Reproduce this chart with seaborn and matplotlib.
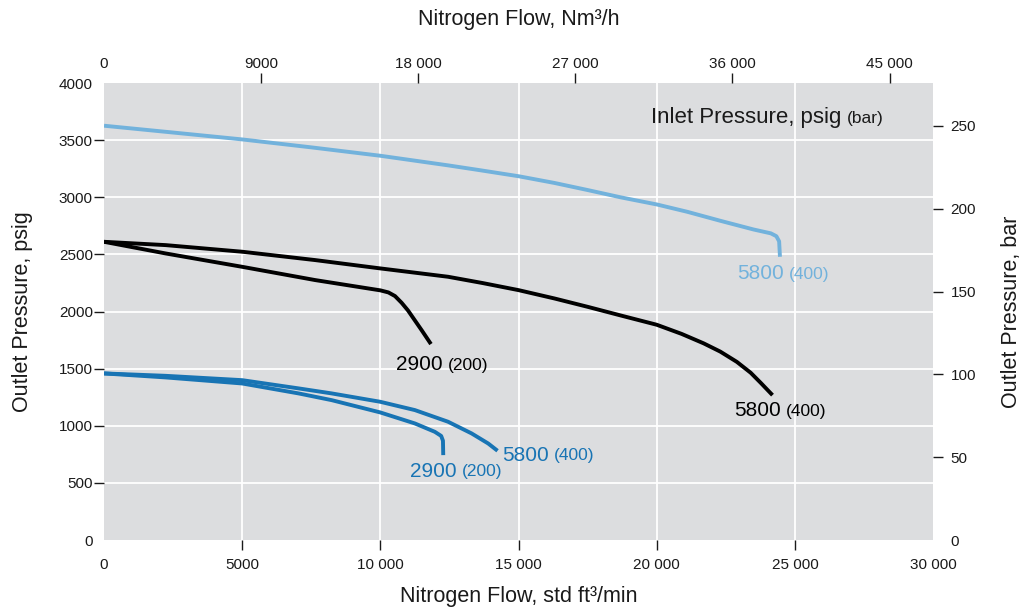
import pandas as pd
import seaborn as sns
import matplotlib.pyplot as plt
from matplotlib.ticker import FuncFormatter

# curve data (flow in std ft3/min, outlet pressure in psig)
lb58_flow = [0, 2470, 5000, 7520, 10000, 12450, 13540, 15000, 16300, 17500, 18700,
             20000, 21100, 22300, 23500, 24130, 24330, 24430, 24460]
lb58_psig = [3627, 3568, 3507, 3437, 3364, 3280, 3240, 3185, 3126, 3064, 3000,
             2938, 2874, 2795, 2719, 2685, 2660, 2615, 2480]

bk58_flow = [0, 2230, 5000, 7640, 10000, 12450, 13700, 15000, 16300, 17500, 18700,
             20000, 20900, 21700, 22300, 22900, 23400, 23770, 24190]
bk58_psig = [2611, 2582, 2524, 2451, 2378, 2305, 2250, 2188, 2115, 2042, 1966,
             1885, 1805, 1722, 1650, 1560, 1465, 1375, 1269]

bk29_flow = [0, 2230, 5000, 7640, 10000, 10290, 10530, 10770, 11000, 11200, 11500, 11830]
bk29_psig = [2611, 2509, 2392, 2276, 2186, 2168, 2136, 2077, 2010, 1940, 1835, 1716]

bl58_flow = [0, 2230, 5000, 7040, 8240, 9990, 11250, 12450, 13300, 13900, 14240]
bl58_psig = [1459, 1438, 1400, 1328, 1284, 1211, 1138, 1036, 934, 846, 782]

bl29_flow = [0, 2230, 5000, 7040, 8240, 9990, 11250, 11970, 12200, 12265, 12275]
bl29_psig = [1459, 1424, 1371, 1284, 1225, 1118, 1021, 948, 912, 870, 744]

curve_names = ["lb58", "bk58", "bk29", "bl58", "bl29"]
inlet_psig = ["5800", "5800", "2900", "5800", "2900"]
inlet_bar = ["(400)", "(400)", "(200)", "(400)", "(200)"]

x_ticks = [0, 5000, 10000, 15000, 20000, 25000, 30000]
y_ticks = [0, 500, 1000, 1500, 2000, 2500, 3000, 3500, 4000]
top_ticks = [0, 9000, 18000, 27000, 36000, 45000]
bar_ticks = [0, 50, 100, 150, 200, 250]

NM3H_PER_SCFM = 1.583
PSI_PER_BAR = 14.5038

colors = {"lb58": "#72b2dc", "bk58": "#000000", "bk29": "#000000",
          "bl58": "#1874b4", "bl29": "#1874b4"}

frames = []
for name, fl, ps in zip(curve_names,
                        [lb58_flow, bk58_flow, bk29_flow, bl58_flow, bl29_flow],
                        [lb58_psig, bk58_psig, bk29_psig, bl58_psig, bl29_psig]):
    frames.append(pd.DataFrame({"flow": fl, "psig": ps, "curve": name}))
df = pd.concat(frames, ignore_index=True)

sns.set_theme(style="darkgrid", rc={"axes.facecolor": "#dcdddf",
                                    "grid.color": "white",
                                    "grid.linewidth": 1.3})
plt.rcParams["font.family"] = ["Liberation Sans", "DejaVu Sans"]

fig, ax = plt.subplots(figsize=(10.31, 6.11), dpi=100)
fig.subplots_adjust(left=0.1009, right=0.905, bottom=0.116, top=0.864)

sns.lineplot(data=df, x="flow", y="psig", hue="curve", palette=colors,
             sort=False, estimator=None, legend=False, linewidth=2.8, ax=ax)
for ln in ax.get_lines():
    ln.set_solid_capstyle("butt")
    ln.set_solid_joinstyle("round")

ax.set_xlim(0, 30000)
ax.set_ylim(0, 4000)
for s in ax.spines.values():
    s.set_visible(False)


def fmt(v, pos):
    v = int(round(v))
    if v >= 10000:
        return f"{v:,}".replace(",", " ")
    return str(v)


tick_col = "#1a1a1a"
TL = 7
# labels on major ticks (no tick line), tick lines on minor ticks (inner ones only)
ax.xaxis.remove_overlapping_locs = False
ax.yaxis.remove_overlapping_locs = False
ax.set_xticks(x_ticks)
ax.set_xticks(x_ticks[1:-1], minor=True)
ax.set_yticks(y_ticks)
ax.set_yticks(y_ticks[1:-1], minor=True)
ax.xaxis.set_major_formatter(FuncFormatter(fmt))
ax.yaxis.set_major_formatter(FuncFormatter(fmt))
ax.tick_params(axis="x", which="major", length=0, pad=TL + 6, labelsize=11, labelcolor=tick_col)
ax.tick_params(axis="y", which="major", length=0, pad=TL + 1, labelsize=11, labelcolor=tick_col)
ax.tick_params(which="minor", length=TL, width=1, color=tick_col,
               bottom=True, left=True)
ax.grid(False, which="major")
ax.grid(True, which="minor", color="white", linewidth=1.3)

ax.set_xlabel("Nitrogen Flow, std ft³/min", fontsize=15.5, labelpad=10, color=tick_col)
ax.set_ylabel("Outlet Pressure, psig", fontsize=15.5, labelpad=19, color=tick_col)

top = ax.secondary_xaxis("top", functions=(lambda x: x * NM3H_PER_SCFM,
                                           lambda x: x / NM3H_PER_SCFM))
top.xaxis.remove_overlapping_locs = False
top.set_xticks(top_ticks)
top.set_xticks(top_ticks[1:], minor=True)
top.xaxis.set_major_formatter(FuncFormatter(fmt))
top.tick_params(which="major", length=0, pad=TL + 2, labelsize=11, labelcolor=tick_col)
top.tick_params(which="minor", length=TL, width=1, color=tick_col, top=True)
top.set_xlabel("Nitrogen Flow, Nm³/h", fontsize=15.5, labelpad=23, color=tick_col)

right = ax.secondary_yaxis("right", functions=(lambda y: y / PSI_PER_BAR,
                                               lambda y: y * PSI_PER_BAR))
right.yaxis.remove_overlapping_locs = False
right.set_yticks(bar_ticks)
right.set_yticks(bar_ticks[1:], minor=True)
right.yaxis.set_major_formatter(FuncFormatter(fmt))
right.tick_params(which="major", length=0, pad=TL + 5.5, labelsize=11, labelcolor=tick_col)
right.tick_params(which="minor", length=TL, width=1, color=tick_col, right=True)
right.set_ylabel("Outlet Pressure, bar", fontsize=15.5, labelpad=18, color=tick_col)
for sec in (top, right):
    for s in sec.spines.values():
        s.set_visible(False)

# curve labels: big psig number followed by smaller bar value
label_pos = {"lb58": (22924, 2285), "bk58": (22815, 1085), "bk29": (10577, 1490),
             "bl58": (14404, 694), "bl29": (11083, 554)}
for name, big, small in zip(curve_names, inlet_psig, inlet_bar):
    c = colors[name]
    t = ax.text(*label_pos[name], big, fontsize=15, color=c, ha="left", va="baseline")
    ax.annotate(small, xy=(1, 0), xycoords=t, xytext=(3.5, 0.21 * 15),
                textcoords="offset points", fontsize=12.5, color=c,
                ha="left", va="baseline")

t = ax.text(19783, 3650, "Inlet Pressure, psig", fontsize=16, color=tick_col,
            ha="left", va="baseline")
ax.annotate("(bar)", xy=(1, 0), xycoords=t, xytext=(4, 0.21 * 16),
            textcoords="offset points", fontsize=12.5, color=tick_col,
            ha="left", va="baseline")

plt.savefig("out.png", dpi=100)
